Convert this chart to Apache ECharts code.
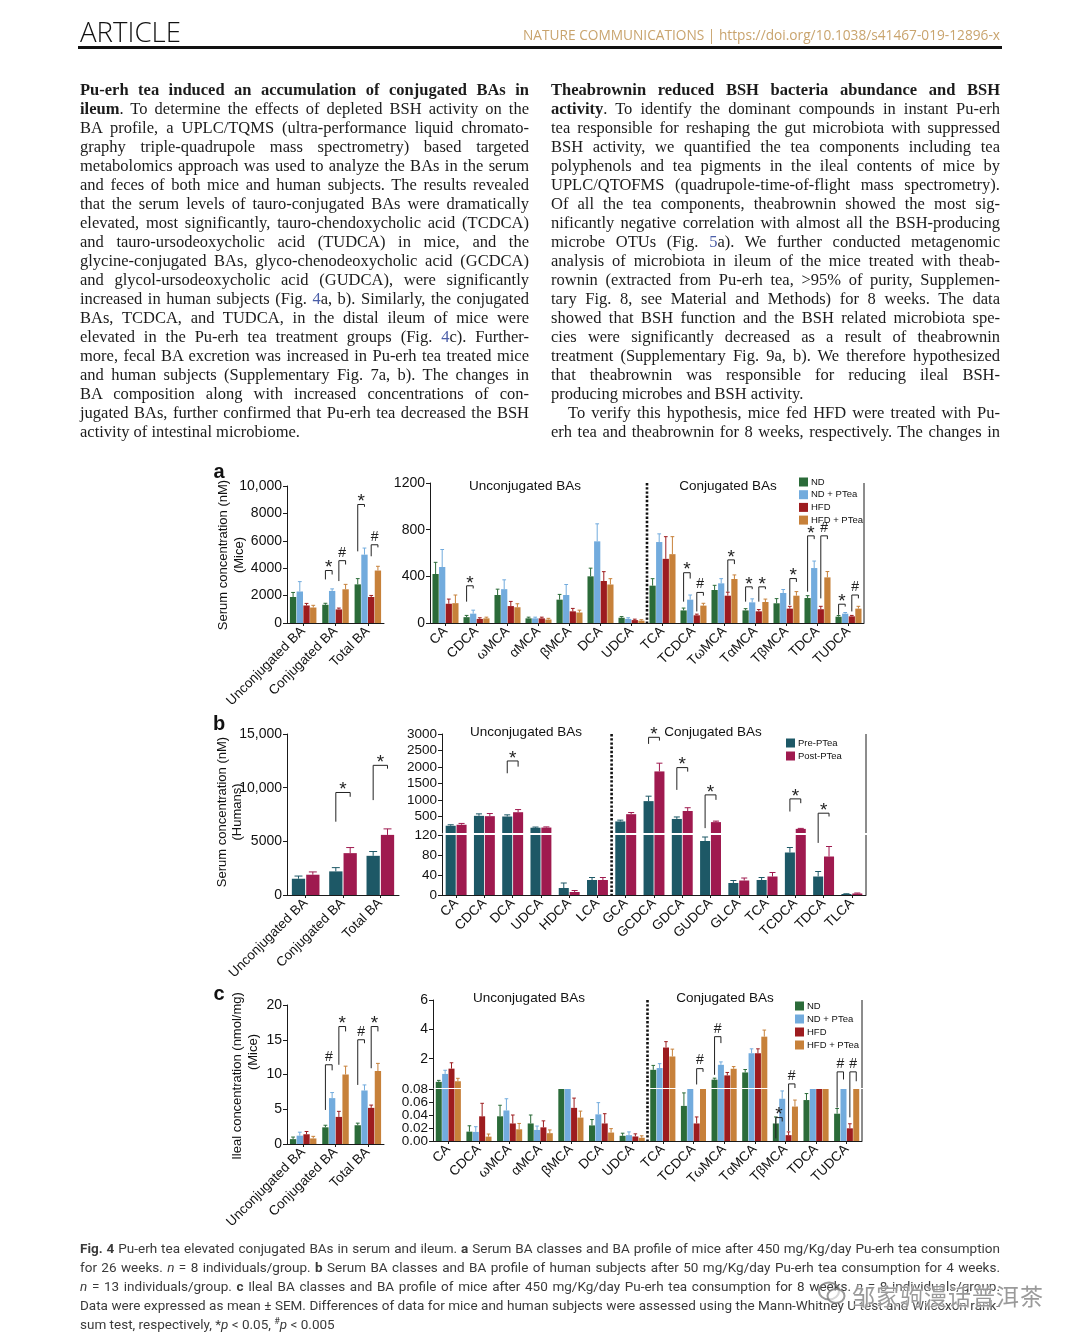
<!DOCTYPE html>
<html>
<head>
<meta charset="utf-8">
<title>Fig. 4 – Pu-erh tea elevated conjugated BAs</title>
<script src="https://cdn.jsdelivr.net/npm/echarts/dist/echarts.min.js"></script>
<style>
html,body{margin:0;padding:0;background:#fff;}
body{width:1080px;height:1340px;position:relative;overflow:hidden;}
#chart{position:absolute;left:0;top:0;width:1080px;height:1340px;}
.ln{position:absolute;white-space:nowrap;height:20px;line-height:20px;}
.ln > span{display:inline-block;transform-origin:0 50%;}
.body{font-family:"Liberation Serif","Times New Roman",serif;font-size:16.5px;color:#1b1b1b;}
.cap{font-family:Roboto,"Liberation Sans",sans-serif;font-size:13.5px;color:#3a3a3a;}
.lk{color:#4b5ea8;}
#hdrL{position:absolute;left:80px;top:14px;font-family:"Open Sans",sans-serif;font-weight:300;font-size:28px;color:#111;white-space:nowrap;transform-origin:0 50%;line-height:34px;}
#hdrR{position:absolute;left:523px;top:26px;font-family:"Open Sans",sans-serif;font-weight:400;font-size:14px;color:#c9a46e;white-space:nowrap;transform-origin:0 50%;line-height:18px;}
#rule{position:absolute;left:78px;top:46px;width:924px;height:2.5px;background:#111;}
#wm{position:absolute;left:852px;top:1278px;font-family:"Noto Sans CJK SC",sans-serif;font-size:23px;color:rgba(120,120,120,0.75);white-space:nowrap;text-shadow:0 0 2px #fff,0 0 2px #fff;letter-spacing:1px;}
#wmi{position:absolute;left:818px;top:1280px;width:28px;height:26px;}
</style>
</head>
<body>
<div id="chart"></div>
<div id="txt"></div>
<script>
// ---------------- data ----------------
const groupsMice  = ['ND', 'ND + PTea', 'HFD', 'HFD + PTea'];
const groupsHuman = ['Pre-PTea', 'Post-PTea'];
const classCats   = ['Unconjugated BA', 'Conjugated BA', 'Total BA'];
const miceBAs  = ['CA','CDCA','ωMCA','αMCA','βMCA','DCA','UDCA','TCA','TCDCA','TωMCA','TαMCA','TβMCA','TDCA','TUDCA'];
const humanBAs = ['CA','CDCA','DCA','UDCA','HDCA','LCA','GCA','GCDCA','GDCA','GUDCA','GLCA','TCA','TCDCA','TDCA','TLCA'];

// tick labels
const aClassTicks = [0, 2000, 4000, 6000, 8000, 10000];
const aProfTicks  = [0, 400, 800, 1200];
const bClassTicks = [0, 5000, 10000, 15000];
const bProfUpperTicks = [0, 500, 1000, 1500, 2000, 2500, 3000];
const bProfLowerTicks = [0, 40, 80, 120];
const cClassTicks = [0, 5, 10, 15, 20];
const cProfUpperTicks = [0, 2, 4, 6];
const cProfLowerTicks = [0, 0.02, 0.04, 0.06, 0.08];

// panel a: serum, mice (nM) – BA classes
const aClassND   = [1900, 1330, 2820];
const aClassNDP  = [2300, 2340, 4990];
const aClassHFD  = [1280,  990, 1900];
const aClassHFDP = [1130, 2460, 3830];
const aClassErrND   = [330, 110, 420];
const aClassErrNDP  = [720, 150, 480];
const aClassErrHFD  = [150, 100, 110];
const aClassErrHFDP = [160, 360, 310];
// panel a: serum, mice (nM) – BA profile
const aProfND   = [420, 50, 240, 40, 200, 400, 45, 320, 108, 283, 108, 169, 214, 54];
const aProfNDP  = [480, 80, 290, 40, 240, 700, 35, 694, 200, 340, 177, 257, 471, 80];
const aProfHFD  = [165, 35, 145, 40, 100, 360, 25, 550,  66, 234, 100, 123, 118, 57];
const aProfHFDP = [170, 40, 135, 30,  90, 330, 20, 590, 149, 377, 180, 234, 391, 123];
const aProfErrND   = [100, 15, 50, 10, 45,  70, 10,  60, 20, 40, 15, 40, 20, 10];
const aProfErrNDP  = [150, 30, 80, 10, 90, 150, 10,  70, 40, 40, 30, 30, 60, 10];
const aProfErrHFD  = [ 40, 10, 40, 10, 25,  80,  8, 190, 10, 30, 15, 20, 25,  8];
const aProfErrHFDP = [ 70, 10, 30, 10, 20,  50,  8, 150, 20, 35, 25, 35, 50, 20];

// panel b: serum, humans (nM)
const bClassPre  = [1515, 2200, 3650];
const bClassPost = [1890, 3900, 5600];
const bClassErrPre  = [250, 350, 400];
const bClassErrPost = [260, 520, 560];
const bProfPre  = [220, 520, 500, 160, 14, 30, 350,  966, 426, 108, 24, 30,  85, 37, 2];
const bProfPost = [250, 510, 630, 165,  6, 30, 570, 1866, 666, 330, 29, 37, 125, 77, 3];
const bProfErrPre  = [30, 60, 50, 20, 10, 5, 40, 150,  60,  8, 5, 5, 10, 10, 0.5];
const bProfErrPost = [40, 80, 80, 20,  3, 5, 50, 250, 100, 30, 5, 8, 15, 20, 1];

// panel c: ileum, mice (nmol/mg)
const cClassND   = [0.7, 2.4, 2.7];
const cClassNDP  = [1.2, 6.6, 7.7];
const cClassHFD  = [1.4, 3.9, 5.2];
const cClassHFDP = [0.8, 10.0, 10.5];
const cClassErrND   = [0.3, 0.3, 0.3];
const cClassErrNDP  = [0.5, 0.8, 0.8];
const cClassErrHFD  = [0.4, 0.8, 0.4];
const cClassErrHFDP = [0.3, 1.2, 1.1];
const cProfND   = [0.42, 0.0144, 0.038, 0.027, 0.08,  0.024, 0.008, 1.24, 0.054, 0.57, 1.06, 0.027, 0.063, 0.042];
const cProfNDP  = [0.96, 0.014,  0.047, 0.017, 0.08,  0.041, 0.009, 1.36, 0.08,  1.58, 2.37, 0.065, 0.08,  0.08];
const cProfHFD  = [1.32, 0.038,  0.027, 0.021, 0.051, 0.027, 0.007, 2.76, 0.027, 0.86, 2.37, 0.009, 0.08,  0.0195];
const cProfHFDP = [0.46, 0.0067, 0.018, 0.012, 0.036, 0.013, 0.005, 2.15, 0.08,  1.31, 3.5,  0.053, 0.08,  0.08];
const cProfErrND   = [0.10, 0.009, 0.017, 0.013, 0,     0.009, 0.004, 0.3, 0.02, 0.10, 0.20, 0.010, 0.010, 0.008];
const cProfErrNDP  = [0.25, 0.008, 0.018, 0.006, 0,     0.018, 0.005, 0.3, 0,    0.20, 0.30, 0.012, 0,     0];
const cProfErrHFD  = [0.40, 0.020, 0.013, 0.010, 0.015, 0.015, 0.004, 0.4, 0.01, 0.20, 0.30, 0.005, 0,     0.007];
const cProfErrHFDP = [0.20, 0.004, 0.009, 0.005, 0.010, 0.006, 0.003, 0.5, 0,    0.15, 0.45, 0.010, 0,     0];

// significance marks: [category, left bar, right bar, bracket top, left leg end, right leg end, mark (0 '*', 1 '#')]
const aClassSig = [[1,0,1,3830,3180,3540,0],[1,2,3,4550,3060,4270,1],[2,0,1,8650,5230,8480,0],[2,2,3,5710,4870,5520,1]];
const aProfSig  = [[1,0,1,319,183,296,0],[8,0,1,431,183,381,0],[8,2,3,262,99,234,1],[9,2,3,541,268,505,0],
                   [10,0,1,310,183,290,0],[10,2,3,310,183,290,0],[11,2,3,381,155,352,0],[12,0,1,747,268,719,0],
                   [12,2,3,747,211,719,1],[13,0,1,161,70,141,0],[13,2,3,240,99,211,1]];
const bClassSig = [[1,0,1,9550,6830,9150,0],[2,0,1,12080,8840,11770,0]];
const bProfSig  = [[2,0,1,2183,1810,2010,0],[7,0,1,2900,2700,2800,0],[8,0,1,1982,1306,1860,0],
                   [9,0,1,1155,148,1004,0],[12,0,1,1034,651,903,0],[13,0,1,600,-300,500,0]];
const cClassSig = [[1,0,1,11.4,4.9,10.6,1],[1,2,3,16.9,11.4,16.2,0],[2,0,1,15.0,8.5,14.5,1],[2,2,3,16.9,10.9,16.2,0]];
const cProfSigUpper = [[8,2,3,1.32,0.24,1.1,1],[9,0,1,3.5,0.9,3.06,1],[11,2,3,0.28,-2.93,0,1],[13,0,1,1.1,-1.34,0.58,1],[13,2,3,1.1,-2.0,0.46,1]];
const cProfSigLower = [[11,0,1,0.036,0.004,0.030,0]];

// ---------------- styling ----------------
const FONT = '"Liberation Sans", Arial, Helvetica, sans-serif';
const AX = '#1a1a1a';
const colMice  = ['#2b6b39', '#72abdd', '#9d1c1f', '#c7813a'];
const colHuman = ['#1d5866', '#9f1a4f'];
const MARKS = ['*', '#'];

const grids = [
  {left:287, top:486,  width:97,  height:137},  // 0 a classes
  {left:430, top:483,  width:434, height:140},  // 1 a profile
  {left:287, top:734,  width:112, height:161},  // 2 b classes
  {left:442, top:734,  width:424, height:99},   // 3 b profile (upper)
  {left:442, top:835,  width:424, height:60},   // 4 b profile (lower)
  {left:287, top:1005, width:97,  height:139},  // 5 c classes
  {left:433, top:1000, width:429, height:88},   // 6 c profile (upper)
  {left:433, top:1089, width:429, height:52}    // 7 c profile (lower)
].map(g => Object.assign({containLabel:false, outerBoundsMode:'none'}, g));

function fmtNum(v){ return v >= 10000 ? v.toLocaleString('en-US') : String(v); }

function xCat(gi, data, show) {
  return {type:'category', gridIndex:gi, data,
    axisLine:{show, lineStyle:{color:AX, width:1}},
    axisTick:{show, alignWithLabel:true, length:3, lineStyle:{color:AX}},
    axisLabel:{show, rotate:45, margin:6, fontSize:13.5, color:'#111', fontFamily:FONT, interval:0, hideOverlap:false},
    splitLine:{show:false}};
}
function yVal(gi, ticks, fmt, hideMin, small, noLabels) {
  return {type:'value', gridIndex:gi, min:ticks[0], max:ticks[ticks.length-1], interval:ticks[1]-ticks[0],
    axisLine:{show:true, lineStyle:{color:AX, width:1}},
    axisTick:{show:true, length:4, lineStyle:{color:AX}},
    axisLabel:{show:!noLabels, formatter:fmt, showMinLabel:!hideMin, showMaxLabel:true, hideOverlap:false,
      fontSize: small ? 13.5 : 14, color:'#111', fontFamily:FONT, margin:5},
    splitLine:{show:false}};
}

const xAxes = [
  xCat(0, classCats, true), xCat(1, miceBAs, true), xCat(2, classCats, true),
  xCat(3, humanBAs, false), xCat(4, humanBAs, true), xCat(5, classCats, true),
  xCat(6, miceBAs, false), xCat(7, miceBAs, true)
];
const fmtLowC = v => v.toFixed(2);
const yAxes = [
  yVal(0, aClassTicks, fmtNum), yVal(1, aProfTicks, fmtNum), yVal(2, bClassTicks, fmtNum),
  yVal(3, bProfUpperTicks, fmtNum, true, true), yVal(4, bProfLowerTicks, fmtNum, false, true),
  yVal(5, cClassTicks, fmtNum), yVal(6, cProfUpperTicks, fmtNum, true),
  yVal(7, cProfLowerTicks, fmtLowC, false, true, true)   // labels placed below through the axis scale
];

const series = [];

function barGeom(api, n, catGap, barGap) {
  const band = api.size([1, 0])[0];
  const groupW = band * (1 - catGap);
  const bw = groupW / (n + (n - 1) * barGap);
  return {groupW, bw, pos: (cx, i) => cx - groupW / 2 + i * bw * (1 + barGap) + bw / 2};
}

function addBars(ai, names, colors, vals, catGap, barGap, pick) {
  vals.forEach((arr, i) => {
    series.push({type:'bar', name:names[i], xAxisIndex:ai, yAxisIndex:ai,
      data: arr.map(pick || (v => v)), itemStyle:{color:colors[i]},
      barCategoryGap:(catGap*100)+'%', barGap:(barGap*100)+'%', silent:true, z:2});
  });
}
function addErrors(ai, colors, vals, errs, catGap, barGap, keep, clipTop) {
  const data = [];
  vals.forEach((arr, i) => arr.forEach((v, k) => {
    if (keep && !keep(v)) return;
    let hi = v + errs[i][k];
    if (clipTop != null) hi = Math.min(hi, clipTop);
    if (hi > v) data.push([k, i, v, hi]);
  }));
  const n = vals.length;
  series.push({type:'custom', xAxisIndex:ai, yAxisIndex:ai, data, encode:{x:0, y:2}, silent:true, z:3,
    renderItem(params, api) {
      const g = barGeom(api, n, catGap, barGap);
      const i = api.value(1);
      const c0 = api.coord([api.value(0), api.value(2)]);
      const c1 = api.coord([api.value(0), api.value(3)]);
      const x = g.pos(c0[0], i);
      const cap = Math.max(1.5, g.bw * 0.3);
      const st = {stroke:colors[i], lineWidth:1};
      return {type:'group', children:[
        {type:'line', shape:{x1:x, y1:c0[1], x2:x, y2:c1[1]}, style:st},
        {type:'line', shape:{x1:x-cap, y1:c1[1], x2:x+cap, y2:c1[1]}, style:st}
      ]};
    }});
}
function addSig(ai, n, catGap, barGap, sig) {
  series.push({type:'custom', xAxisIndex:ai, yAxisIndex:ai, data:sig, encode:{x:0, y:3}, silent:true, z:4, clip:false,
    renderItem(params, api) {
      const g = barGeom(api, n, catGap, barGap);
      const cat = api.value(0);
      const cx = api.coord([cat, 0])[0];
      const xi = g.pos(cx, api.value(1)), xj = g.pos(cx, api.value(2));
      const yt = api.coord([cat, api.value(3)])[1];
      const yl = api.coord([cat, api.value(4)])[1];
      const yr = api.coord([cat, api.value(5)])[1];
      const m = MARKS[api.value(6)];
      const star = m === '*';
      return {type:'group', children:[
        {type:'polyline', shape:{points:[[xi, yl], [xi, yt], [xj, yt], [xj, yr]]}, style:{stroke:'#222', lineWidth:1, fill:null}},
        {type:'text', x:(xi + xj) / 2, y: star ? yt + 7 : yt - 1,
         style:{text:m, fill:'#222', font:(star ? '19px ' : '14px ') + FONT, align:'center', verticalAlign:'bottom', textAlign:'center', textVerticalAlign:'bottom'}}
      ]};
    }});
}
function addFrame(ai, sepAfter) {
  series.push({type:'custom', xAxisIndex:ai, yAxisIndex:ai, data:[[sepAfter, 0]], encode:{x:0, y:1}, silent:true, z:5, clip:false,
    renderItem(params, api) {
      const cs = params.coordSys;
      const xa = api.coord([api.value(0), 0])[0], xb = api.coord([api.value(0) + 1, 0])[0];
      const xm = (xa + xb) / 2;
      return {type:'group', children:[
        {type:'line', shape:{x1:xm, y1:cs.y, x2:xm, y2:cs.y + cs.height}, style:{stroke:'#111', lineWidth:2.6, lineDash:[2.4, 1.8]}},
        {type:'line', shape:{x1:cs.x + cs.width, y1:cs.y, x2:cs.x + cs.width, y2:cs.y + cs.height}, style:{stroke:AX, lineWidth:1}}
      ]};
    }});
}

// panel a
const aCls = [aClassND, aClassNDP, aClassHFD, aClassHFDP];
const aClsE = [aClassErrND, aClassErrNDP, aClassErrHFD, aClassErrHFDP];
addBars(0, groupsMice, colMice, aCls, 0.18, 0.06);
addErrors(0, colMice, aCls, aClsE, 0.18, 0.06);
addSig(0, 4, 0.18, 0.06, aClassSig);

const aPrf = [aProfND, aProfNDP, aProfHFD, aProfHFDP];
const aPrfE = [aProfErrND, aProfErrNDP, aProfErrHFD, aProfErrHFDP];
addBars(1, groupsMice, colMice, aPrf, 0.16, 0.06);
addErrors(1, colMice, aPrf, aPrfE, 0.16, 0.06);
addSig(1, 4, 0.16, 0.06, aProfSig);
addFrame(1, 6);

// panel b
const bCls = [bClassPre, bClassPost];
const bClsE = [bClassErrPre, bClassErrPost];
addBars(2, groupsHuman, colHuman, bCls, 0.26, 0.08);
addErrors(2, colHuman, bCls, bClsE, 0.26, 0.08);
addSig(2, 2, 0.26, 0.08, bClassSig);

const bBreak = bProfLowerTicks[bProfLowerTicks.length - 1];
const bPrf = [bProfPre, bProfPost];
const bPrfE = [bProfErrPre, bProfErrPost];
addBars(3, groupsHuman, colHuman, bPrf, 0.26, 0.08, v => v > bBreak ? v : '-');
addErrors(3, colHuman, bPrf, bPrfE, 0.26, 0.08, v => v > bBreak);
addSig(3, 2, 0.26, 0.08, bProfSig);
addFrame(3, 5);
addBars(4, groupsHuman, colHuman, bPrf, 0.26, 0.08, v => Math.min(v, bBreak));
addErrors(4, colHuman, bPrf, bPrfE, 0.26, 0.08, v => v <= bBreak, bBreak);
addFrame(4, 5);

// panel c
const cCls = [cClassND, cClassNDP, cClassHFD, cClassHFDP];
const cClsE = [cClassErrND, cClassErrNDP, cClassErrHFD, cClassErrHFDP];
addBars(5, groupsMice, colMice, cCls, 0.18, 0.06);
addErrors(5, colMice, cCls, cClsE, 0.18, 0.06);
addSig(5, 4, 0.18, 0.06, cClassSig);

const cBreak = cProfLowerTicks[cProfLowerTicks.length - 1];
const cPrf = [cProfND, cProfNDP, cProfHFD, cProfHFDP];
const cPrfE = [cProfErrND, cProfErrNDP, cProfErrHFD, cProfErrHFDP];
addBars(6, groupsMice, colMice, cPrf, 0.18, 0.06, v => v > cBreak ? v : '-');
addErrors(6, colMice, cPrf, cPrfE, 0.18, 0.06, v => v > cBreak);
addSig(6, 4, 0.18, 0.06, cProfSigUpper);
addFrame(6, 6);
addBars(7, groupsMice, colMice, cPrf, 0.18, 0.06, v => Math.min(v, cBreak));
addErrors(7, colMice, cPrf, cPrfE, 0.18, 0.06, v => v <= cBreak, cBreak);
addSig(7, 4, 0.18, 0.06, cProfSigLower);
addFrame(7, 6);

function gText(x, y, text, size, o) {
  o = o || {};
  const el = {type:'text', x, y, silent:true, z:10,
    style:{text, font:(o.weight || 'normal') + ' ' + size + 'px ' + FONT, fill:o.color || '#111',
      align:o.align || 'center', verticalAlign:'middle', textAlign:o.align || 'center', textVerticalAlign:'middle'}};
  if (o.rot) el.rotation = o.rot;
  return el;
}
const R = Math.PI / 2;
const graphics = [
  gText(219, 472, 'a', 20, {weight:'bold'}),
  gText(219, 724, 'b', 20, {weight:'bold'}),
  gText(219, 994, 'c', 20, {weight:'bold'}),
  gText(223, 555, 'Serum concentration (nM)', 13, {rot:R}),
  gText(239, 555, '(Mice)', 13, {rot:R}),
  gText(222, 812, 'Serum concentration (nM)', 13, {rot:R}),
  gText(237, 812, '(Humans)', 13, {rot:R}),
  gText(237, 1076, 'Ileal concentration (nmol/mg)', 13, {rot:R}),
  gText(253, 1052, '(Mice)', 13, {rot:R}),
  gText(525, 486, 'Unconjugated BAs', 13.5),
  gText(728, 486, 'Conjugated BAs', 13.5),
  gText(526, 732, 'Unconjugated BAs', 13.5),
  gText(713, 732, 'Conjugated BAs', 13.5),
  gText(529, 998, 'Unconjugated BAs', 13.5),
  gText(725, 998, 'Conjugated BAs', 13.5)
];

function legendAt(data, left, top, gap) {
  return {data, left, top, orient:'vertical', itemWidth:9, itemHeight:9, itemGap:gap, padding:0, icon:'rect',
    selectedMode:false, textStyle:{fontSize:9.5, color:'#111', fontFamily:FONT, padding:[0, 0, 0, -2]}};
}

const chart = echarts.init(document.getElementById('chart'), null, {renderer:'canvas'});
chart.setOption({
  animation:false,
  backgroundColor:'transparent',
  grid:grids, xAxis:xAxes, yAxis:yAxes, series,
  legend:[legendAt(groupsMice, 799, 477, 2.7), legendAt(groupsHuman, 786, 738, 3), legendAt(groupsMice, 795, 1001, 3)],
  graphic:graphics
});
// tick labels of the lower ileal axis (closely spaced), positioned through the axis scale
const lowLabels = cProfLowerTicks.map(v => gText(grids[7].left - 5, chart.convertToPixel({yAxisIndex:7}, v), fmtLowC(v), 13.5, {align:'right'}));
chart.setOption({graphic: graphics.concat(lowLabels)});

// ---------------- article text ----------------
const txt = document.getElementById('txt');
function el(tag, attrs, html) {
  const e = document.createElement(tag);
  Object.assign(e, attrs || {});
  if (html != null) e.innerHTML = html;
  txt.appendChild(e);
  return e;
}
el('div', {id:'hdrL'}, 'ARTICLE');
el('div', {id:'hdrR'}, 'NATURE COMMUNICATIONS | https://doi.org/10.1038/s41467-019-12896-x');
el('div', {id:'rule'});

const leftCol = [
 ['<b>Pu-erh tea induced an accumulation of conjugated BAs in</b>', 1],
 ['<b>ileum</b>. To determine the effects of depleted BSH activity on the', 1],
 ['BA profile, a UPLC/TQMS (ultra-performance liquid chromato-', 1],
 ['graphy triple-quadrupole mass spectrometry) based targeted', 1],
 ['metabolomics approach was used to analyze the BAs in the serum', 1],
 ['and feces of both mice and human subjects. The results revealed', 1],
 ['that the serum levels of tauro-conjugated BAs were dramatically', 1],
 ['elevated, most significantly, tauro-chendoxycholic acid (TCDCA)', 1],
 ['and tauro-ursodeoxycholic acid (TUDCA) in mice, and the', 1],
 ['glycine-conjugated BAs, glyco-chenodeoxycholic acid (GCDCA)', 1],
 ['and glycol-ursodeoxycholic acid (GUDCA), were significantly', 1],
 ['increased in human subjects (Fig. <span class="lk">4</span>a, b). Similarly, the conjugated', 1],
 ['BAs, TCDCA, and TUDCA, in the distal ileum of mice were', 1],
 ['elevated in the Pu-erh tea treatment groups (Fig. <span class="lk">4</span>c). Further-', 1],
 ['more, fecal BA excretion was increased in Pu-erh tea treated mice', 1],
 ['and human subjects (Supplementary Fig. 7a, b). The changes in', 1],
 ['BA composition along with increased concentrations of con-', 1],
 ['jugated BAs, further confirmed that Pu-erh tea decreased the BSH', 1],
 ['activity of intestinal microbiome.', 0]
];
const rightCol = [
 ['<b>Theabrownin reduced BSH bacteria abundance and BSH</b>', 1],
 ['<b>activity</b>. To identify the dominant compounds in instant Pu-erh', 1],
 ['tea responsible for reshaping the gut microbiota with suppressed', 1],
 ['BSH activity, we quantified the tea components including tea', 1],
 ['polyphenols and tea pigments in the ileal contents of mice by', 1],
 ['UPLC/QTOFMS (quadrupole-time-of-flight mass spectrometry).', 1],
 ['Of all the tea components, theabrownin showed the most sig-', 1],
 ['nificantly negative correlation with almost all the BSH-producing', 1],
 ['microbe OTUs (Fig. <span class="lk">5</span>a). We further conducted metagenomic', 1],
 ['analysis of microbiota in ileum of the mice treated with theab-', 1],
 ['rownin (extracted from Pu-erh tea, &gt;95% of purity, Supplemen-', 1],
 ['tary Fig. 8, see Material and Methods) for 8 weeks. The data', 1],
 ['showed that BSH function and the BSH related microbiota spe-', 1],
 ['cies were significantly decreased as a result of theabrownin', 1],
 ['treatment (Supplementary Fig. 9a, b). We therefore hypothesized', 1],
 ['that theabrownin was responsible for reducing ileal BSH-', 1],
 ['producing microbes and BSH activity.', 0],
 ['To verify this hypothesis, mice fed HFD were treated with Pu-', 1, 17],
 ['erh tea and theabrownin for 8 weeks, respectively. The changes in', 1]
];
const caption = [
 ['<b>Fig. 4</b> Pu-erh tea elevated conjugated BAs in serum and ileum. <b>a</b> Serum BA classes and BA profile of mice after 450 mg/Kg/day Pu-erh tea consumption', 1],
 ['for 26 weeks. <i>n</i> = 8 individuals/group. <b>b</b> Serum BA classes and BA profile of human subjects after 50 mg/Kg/day Pu-erh tea consumption for 4 weeks.', 1],
 ['<i>n</i> = 13 individuals/group. <b>c</b> Ileal BA classes and BA profile of mice after 450 mg/Kg/day Pu-erh tea consumption for 8 weeks. <i>n</i> = 8 individuals/group.', 1],
 ['Data were expressed as mean ± SEM. Differences of data for mice and human subjects were assessed using the Mann-Whitney U test and Wilcoxon rank-', 1],
 ['sum test, respectively, *<i>p</i> &lt; 0.05, <sup style="font-size:9px;line-height:0">#</sup><i>p</i> &lt; 0.005', 0]
];
const lineEls = [];
function placeLines(lines, x, yc, step, width, cls) {
  lines.forEach((l, k) => {
    const ind = l[2] || 0;
    const d = el('div', {className:'ln ' + cls}, '<span>' + l[0] + '</span>');
    d.style.left = (x + ind) + 'px';
    d.style.top = (yc + k * step - 10) + 'px';
    d.style.width = (width - ind) + 'px';
    lineEls.push([d, width - ind, l[1]]);
  });
}
placeLines(leftCol, 80, 90, 19, 449, 'body');
placeLines(rightCol, 551, 90, 19, 449, 'body');
placeLines(caption, 80, 1248, 19, 920, 'cap');

el('div', {id:'wmi'}, '<svg width="28" height="26" viewBox="0 0 28 26"><ellipse cx="11" cy="11" rx="10" ry="8.5" fill="none" stroke="rgba(120,120,120,0.75)" stroke-width="2"/><ellipse cx="18" cy="16" rx="8.5" ry="7" fill="rgba(255,255,255,0.6)" stroke="rgba(120,120,120,0.75)" stroke-width="2"/></svg>');
el('div', {id:'wm'}, '邹家驹漫话普洱茶');

function fitLines() {
  lineEls.forEach(([d, W, just]) => {
    const s = d.firstChild;
    s.style.wordSpacing = '0px'; s.style.transform = 'none';
    const w = s.getBoundingClientRect().width;
    const spaces = (s.textContent.match(/ /g) || []).length;
    if (w > W) s.style.transform = 'scaleX(' + (W / w) + ')';
    else if (just && spaces) s.style.wordSpacing = ((W - w) / spaces) + 'px';
  });
  const fit = (id, W) => { const e = document.getElementById(id); e.style.transform = 'none'; const w = e.getBoundingClientRect().width; e.style.transform = 'scaleX(' + (W / w) + ')'; };
  fit('hdrL', 101);
  fit('hdrR', 477);
}
fitLines();
if (document.fonts && document.fonts.ready) document.fonts.ready.then(fitLines);
</script>
</body>
</html>
